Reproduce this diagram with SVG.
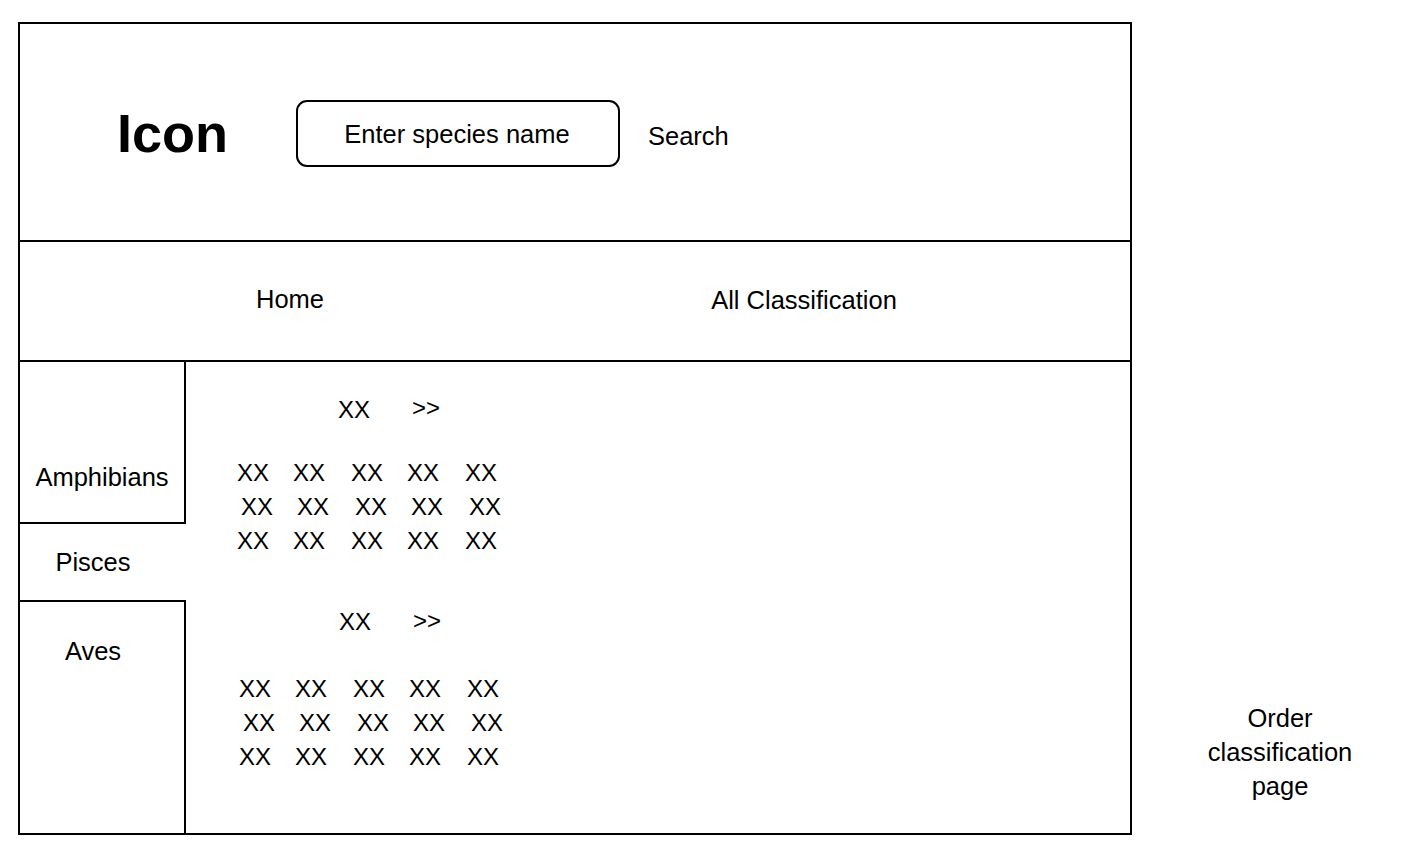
<svg xmlns="http://www.w3.org/2000/svg" width="1404" height="858" viewBox="0 0 1404 858">
<style>
.ln{fill:none;stroke:#000;stroke-width:2}
.t{font-family:"Liberation Sans",Arial,sans-serif;font-size:24px;fill:#000}
.l{font-size:25.5px}
.m{text-anchor:middle}
</style>
<rect width="1404" height="858" fill="#fff"/>
<g id="frame">
<rect class="ln" x="19" y="23" width="1112" height="811"/>
</g>
<g id="header">
<line class="ln" x1="19" y1="241" x2="1131" y2="241"/>
<text class="t" x="117" y="152" style="font-size:54px;font-weight:bold">Icon</text>
<g id="search-box">
<rect class="ln" x="297" y="101" width="322" height="65" rx="10"/>
<text class="t m" x="457" y="143" style="font-size:25.5px">Enter species name</text>
</g>
<text class="t l" x="648" y="145">Search</text>
</g>
<g id="nav">
<line class="ln" x1="19" y1="361" x2="1131" y2="361"/>
<text class="t l m" x="290" y="308">Home</text>
<text class="t l m" x="804" y="309">All Classification</text>
</g>
<g id="sidebar">
<polyline class="ln" points="185,361 185,523 19,523"/>
<polyline class="ln" points="19,601 185,601 185,834"/>
<text class="t l m" x="102" y="486">Amphibians</text>
<text class="t l m" x="93" y="571">Pisces</text>
<text class="t l m" x="93" y="660">Aves</text>
</g>
<g id="group1">
<text class="t" x="338" y="418">XX</text>
<text class="t" x="412" y="416">&gt;&gt;</text>
<text class="t" y="481"><tspan x="237">XX</tspan><tspan x="293">XX</tspan><tspan x="351">XX</tspan><tspan x="407">XX</tspan><tspan x="465">XX</tspan></text>
<text class="t" y="515"><tspan x="241">XX</tspan><tspan x="297">XX</tspan><tspan x="355">XX</tspan><tspan x="411">XX</tspan><tspan x="469">XX</tspan></text>
<text class="t" y="549"><tspan x="237">XX</tspan><tspan x="293">XX</tspan><tspan x="351">XX</tspan><tspan x="407">XX</tspan><tspan x="465">XX</tspan></text>
</g>
<g id="group2">
<text class="t" x="339" y="630">XX</text>
<text class="t" x="413" y="629">&gt;&gt;</text>
<text class="t" y="697"><tspan x="239">XX</tspan><tspan x="295">XX</tspan><tspan x="353">XX</tspan><tspan x="409">XX</tspan><tspan x="467">XX</tspan></text>
<text class="t" y="731"><tspan x="243">XX</tspan><tspan x="299">XX</tspan><tspan x="357">XX</tspan><tspan x="413">XX</tspan><tspan x="471">XX</tspan></text>
<text class="t" y="765"><tspan x="239">XX</tspan><tspan x="295">XX</tspan><tspan x="353">XX</tspan><tspan x="409">XX</tspan><tspan x="467">XX</tspan></text>
</g>
<g id="page-label">
<text class="t l m" x="1280" y="727">Order</text>
<text class="t l m" x="1280" y="761">classification</text>
<text class="t l m" x="1280" y="795">page</text>
</g>
<g id="connectors"></g>
</svg>
